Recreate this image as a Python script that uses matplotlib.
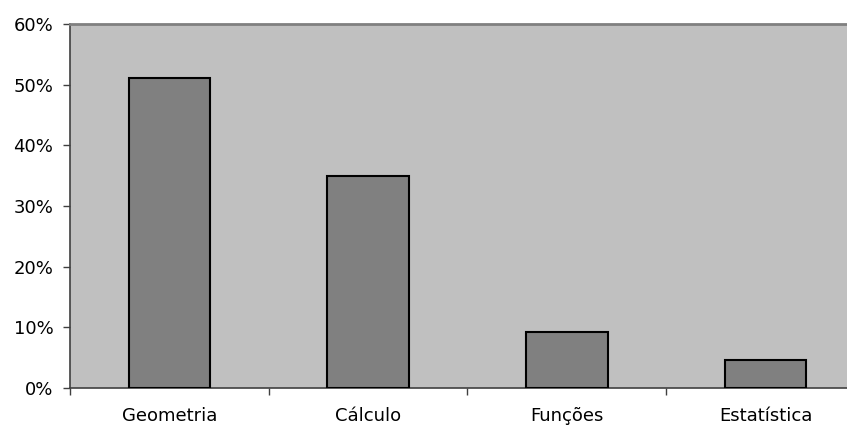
import matplotlib
matplotlib.use("Agg")
import matplotlib.pyplot as plt
from matplotlib.ticker import FixedLocator, FuncFormatter

categories = ["Geometria", "Cálculo", "Funções", "Estatística"]
values = [51.1, 35.0, 9.2, 4.6]
y_ticks = [0, 10, 20, 30, 40, 50, 60]

plt.rcParams["font.family"] = ["DejaVu Sans"]

W, H = 847, 428
fig = plt.figure(figsize=(W / 100, H / 100), dpi=100)
ax = fig.add_axes([70 / W, (H - 388) / H, (W - 70) / W, 364 / H])
ax.set_facecolor("#C0C0C0")

x = list(range(len(categories)))
ax.bar(x, values, width=0.41, color="#808080", edgecolor="black", linewidth=1.5, zorder=3)

ax.set_xlim(-0.5, 3.41)
ax.set_ylim(0, 60)

ax.yaxis.set_major_locator(FixedLocator(y_ticks))
ax.yaxis.set_major_formatter(FuncFormatter(lambda v, p: f"{int(v)}%"))
ax.tick_params(axis="y", direction="out", length=5, width=1, color="#404040",
               pad=7, labelsize=13)

ax.set_xticks(x)
ax.set_xticklabels(categories)
ax.set_xticks([i - 0.5 for i in range(len(categories))], minor=True)
ax.tick_params(axis="x", which="major", length=0, pad=14, labelsize=13)
ax.tick_params(axis="x", which="minor", length=5, width=1, color="#404040")

for side in ("left", "bottom"):
    ax.spines[side].set_color("#404040")
    ax.spines[side].set_linewidth(1.2)
ax.spines["top"].set_color("#808080")
ax.spines["top"].set_linewidth(2)
ax.spines["right"].set_visible(False)

fig.savefig("out.png", dpi=100)
